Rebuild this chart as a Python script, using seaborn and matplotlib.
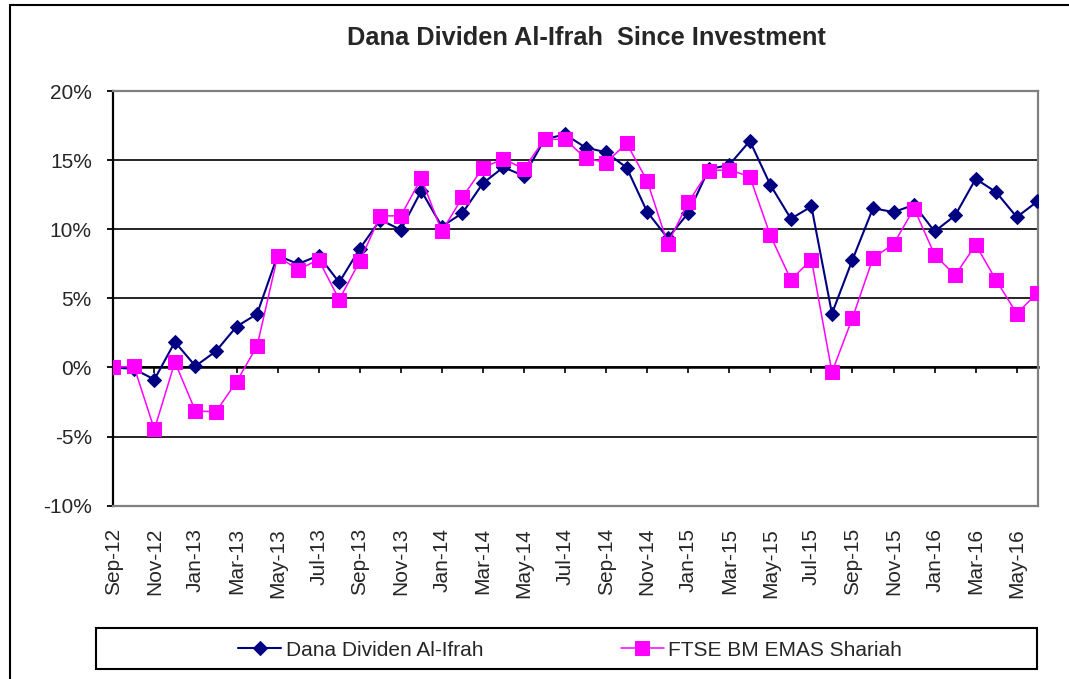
import pandas as pd
import matplotlib.pyplot as plt
import seaborn as sns
from matplotlib.patches import Rectangle
from matplotlib.lines import Line2D
from matplotlib.ticker import FuncFormatter

# Monthly returns since investment (%)
months = list(pd.date_range("2012-09-01", periods=46, freq="MS").strftime("%b-%y"))
dana = [0.0, -0.1, -0.87, 1.85, 0.1, 1.18, 2.96, 3.87, 8.1, 7.49, 8.1, 6.16,
        8.59, 10.69, 9.96, 12.78, 10.2, 11.17, 13.33, 14.49, 13.86, 16.5, 16.87, 15.91,
        15.57, 14.46, 11.26, 9.36, 11.17, 14.34, 14.66, 16.39, 13.21, 10.76, 11.65, 3.9,
        7.8, 11.53, 11.24, 11.77, 9.84, 11.0, 13.65, 12.68, 10.88, 12.01]
ftse = [0.0, 0.1, -4.48, 0.39, -3.15, -3.2, -1.03, 1.54, 8.04, 7.08, 7.8, 4.91,
        7.68, 10.97, 10.97, 13.69, 9.84, 12.3, 14.46, 15.09, 14.37, 16.51, 16.51, 15.14,
        14.83, 16.22, 13.5, 8.95, 11.94, 14.25, 14.3, 13.81, 9.55, 6.35, 7.8, -0.34,
        3.59, 7.92, 8.93, 11.5, 8.16, 6.67, 8.88, 6.31, 3.9, 5.39]

df = pd.DataFrame({"idx": range(len(months)), "Month": months,
                   "Dana Dividen Al-Ifrah": dana, "FTSE BM EMAS Shariah": ftse})

sns.set_style("white")
plt.rcParams["font.family"] = ["Liberation Sans", "DejaVu Sans"]

navy = "#000080"
pink = "#FF00FF"

fig = plt.figure(figsize=(10.69, 6.79), dpi=100)
ax = fig.add_axes([0.106, 0.2552, 0.8653, 0.6107])

sns.lineplot(data=df, x="idx", y="Dana Dividen Al-Ifrah", ax=ax, color=navy,
             marker="D", markersize=6.8, markeredgecolor=navy, linewidth=1.5,
             label="Dana Dividen Al-Ifrah", zorder=3)
sns.lineplot(data=df, x="idx", y="FTSE BM EMAS Shariah", ax=ax, color=pink,
             marker="s", markersize=9.5, markeredgecolor=pink, linewidth=1.1,
             label="FTSE BM EMAS Shariah", zorder=4)

handles, labels = ax.get_legend_handles_labels()
ax.get_legend().remove()

ax.set_xlim(0, 45.05)
ax.set_ylim(-10, 20)
ax.set_yticks([-10, -5, 0, 5, 10, 15, 20])
ax.yaxis.set_major_formatter(FuncFormatter(lambda v, p: f"{v:.0f}%"))
ax.set_xticks(range(0, len(months), 2))
ax.set_xticklabels(months[::2], rotation=90)
ax.set_xlabel("")
ax.set_ylabel("")

ax.tick_params(axis="x", length=0, pad=16, labelsize=15, bottom=False)
ax.tick_params(axis="y", left=True, length=4.5, width=1.3, direction="out",
               pad=11, labelsize=15, color="black")

ax.yaxis.grid(True, color="black", linewidth=1.2)
ax.xaxis.grid(False)

ax.spines["left"].set_color("black")
ax.spines["left"].set_linewidth(1.6)
for s in ["top", "right", "bottom"]:
    ax.spines[s].set_color("#808080")
    ax.spines[s].set_linewidth(1.6)

# category axis crossing at 0%
secax = ax.secondary_xaxis(1 / 3)
secax.set_xticks(range(0, len(months), 2))
secax.tick_params(axis="x", bottom=True, top=False, labelbottom=False, labeltop=False,
                  length=4, width=1.2, direction="out", color="black")
secax.spines["bottom"].set_color("black")
secax.spines["bottom"].set_linewidth(1.8)

fig.text(586 / 1069, 1 - 45 / 679, "Dana Dividen Al-Ifrah  Since Investment",
         ha="center", va="baseline", fontsize=18.3, fontweight="bold")

fig.legend(handles, labels, loc="center", bbox_to_anchor=(570 / 1069, 1 - 650 / 679),
           ncol=2, frameon=False, fontsize=15, handlelength=2.1, handletextpad=0.2,
           columnspacing=6.6)
fig.patches.append(Rectangle((96 / 1069, 1 - 669 / 679), 941 / 1069, 41 / 679,
                             transform=fig.transFigure, fill=False,
                             edgecolor="black", linewidth=1.5))

# chart area border (left and top visible)
fig.add_artist(Line2D([9.5 / 1069] * 2, [0, 1 - 4.7 / 679], transform=fig.transFigure,
                      color="black", linewidth=1.5))
fig.add_artist(Line2D([9.5 / 1069, 1], [1 - 4.7 / 679] * 2, transform=fig.transFigure,
                      color="black", linewidth=1.5))

fig.savefig("out.png", dpi=100)
